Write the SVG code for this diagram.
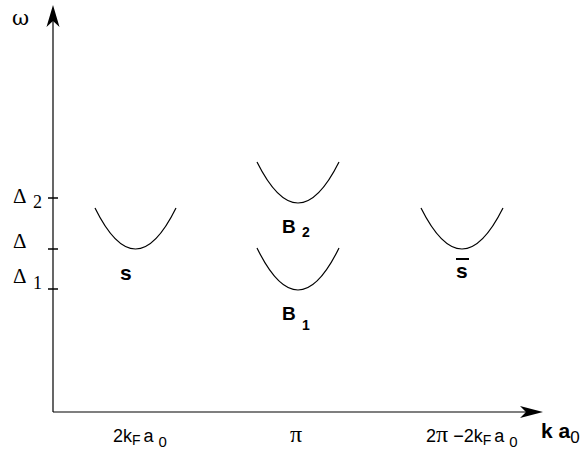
<svg xmlns="http://www.w3.org/2000/svg" width="587" height="450" viewBox="0 0 587 450">
<defs>
<style>
.ax{stroke:#000;stroke-width:1.2;fill:none}
.cv{stroke:#000;stroke-width:1.2;fill:none}
.tk{stroke:#000;stroke-width:1.5}
.serif{font-family:"Liberation Serif","Times New Roman",serif;fill:#000}
.sym{font-family:"DejaVu Serif","Liberation Serif",serif;fill:#000}
.sans{font-family:"Liberation Sans",Arial,sans-serif;fill:#000}
.bold{font-family:"Liberation Sans",Arial,sans-serif;font-weight:bold;fill:#000}
</style>
</defs>
<rect width="587" height="450" fill="#fff"/>
<g id="connectors">
<line class="ax" x1="53" y1="412" x2="53" y2="20"/>
<path d="M53,5 L59.5,27 L53,21 L46.5,27 Z" fill="#000"/>
<line class="ax" x1="53" y1="412" x2="530" y2="412"/>
<path d="M543,412 L520,406 L526,412 L520,418 Z" fill="#000"/>
<line class="tk" x1="48" y1="198" x2="58" y2="198"/>
<line class="tk" x1="48" y1="249" x2="58" y2="249"/>
<line class="tk" x1="48" y1="289" x2="58" y2="289"/>
</g>
<g id="axis-labels">
<text class="sym" x="12" y="25" font-size="21">ω</text>
<text class="serif" x="13" y="203" font-size="21">Δ</text>
<text class="serif" x="33" y="208" font-size="18">2</text>
<text class="serif" x="13" y="248" font-size="21">Δ</text>
<text class="serif" x="13" y="283" font-size="21">Δ</text>
<text class="serif" x="33" y="289" font-size="18">1</text>
</g>
<g id="node-s">
<path class="cv" d="M95,208 Q135.5,290 176,208"/>
<text class="bold" x="120" y="280" font-size="21">s</text>
</g>
<g id="node-B2">
<path class="cv" d="M257,162 Q298,244 339,162"/>
<text class="bold" x="282" y="233" font-size="19">B</text>
<text class="bold" x="302" y="237" font-size="14">2</text>
</g>
<g id="node-B1">
<path class="cv" d="M257,248 Q298,332 339,248"/>
<text class="bold" x="282" y="320" font-size="19">B</text>
<text class="bold" x="302" y="330" font-size="14">1</text>
</g>
<g id="node-sbar">
<path class="cv" d="M421,208 Q462,290 503,208"/>
<line x1="456" y1="259" x2="469" y2="259" stroke="#000" stroke-width="2"/>
<text class="bold" x="456" y="278" font-size="21">s</text>
</g>
<g id="x-labels">
<text class="sans" x="113" y="442" font-size="18">2k<tspan font-size="14" dy="3">F</tspan><tspan dy="-3" dx="3">a</tspan><tspan font-size="15" dy="5" dx="5">0</tspan></text>
<text class="serif" x="290" y="442" font-size="24">π</text>
<text class="sans" x="426" y="442" font-size="18">2<tspan class="serif" font-size="24">π</tspan> −2k<tspan font-size="14" dy="3">F</tspan><tspan dy="-3" dx="3">a</tspan><tspan font-size="15" dy="5" dx="5">0</tspan></text>
<text class="bold" x="541" y="438" font-size="21">k a<tspan class="sans" font-weight="normal" font-size="17" dy="5">0</tspan></text>
</g>
</svg>
